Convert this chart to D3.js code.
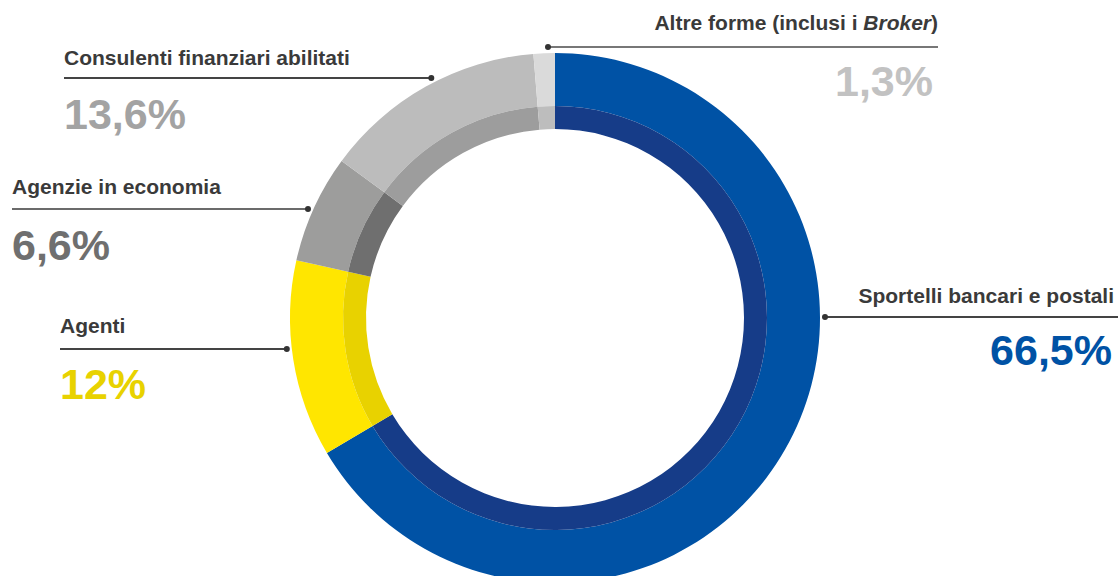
<!DOCTYPE html>
<html><head><meta charset="utf-8">
<script src="https://cdn.jsdelivr.net/npm/d3@7/dist/d3.min.js"></script>
<style>
html,body{margin:0;padding:0;background:#fff;}
svg{display:block;font-family:"Liberation Sans",Arial,Helvetica,sans-serif;}
</style></head>
<body>
<svg id="chart" width="1118" height="576"></svg>
<script>
// ---- data ----
const categories = ["Sportelli bancari e postali","Agenti","Agenzie in economia","Consulenti finanziari abilitati","Altre forme (inclusi i Broker)"];
const values = [66.5, 12, 6.6, 13.6, 1.3];
const valueLabels = ["66,5%","12%","6,6%","13,6%","1,3%"];
const outerColors = ["#0052a5","#ffe600","#9d9d9c","#bcbcbc","#dadada"];
const innerColors = ["#163c88","#e8d200","#6f6f6f","#9d9d9d","#bdbdbd"];
const valueColors = ["#0052a5","#e8d200","#6f6f6f","#a3a3a3","#c2c2c2"];

// ---- layout ----
const W = 1118, H = 576;
const cx = 555, cy = 318;
const rOuter = 265, rBand = 212, rInner = 189, rDot = 270;

const labelLayout = [
  {side:"right", x:1114, vx:1112, titleY:303, lineY:317, valueY:365, lineEnd:1118, lineColor:"#444"},
  {side:"left",  x:60,   vx:60,   titleY:333, lineY:349, valueY:399, lineColor:"#444"},
  {side:"left",  x:12,   vx:12,   titleY:194, lineY:209, valueY:260, lineColor:"#6b6b6b"},
  {side:"left",  x:64,   vx:64,   titleY:65,  lineY:78,  valueY:129, lineColor:"#444"},
  {side:"right", x:938,  vx:933,  titleY:30,  lineY:47,  valueY:96,  lineEnd:938, lineColor:"#777", dotDx:-7}
];

const svg = d3.select("#chart");
const g = svg.append("g").attr("transform", `translate(${cx},${cy})`);

const data = categories.map((c,i)=>({name:c, value:values[i], i}));
const pie = d3.pie().sort(null).value(d=>d.value);
const arcs = pie(data);

const arcOuter = d3.arc().innerRadius(rBand).outerRadius(rOuter);
const arcInner = d3.arc().innerRadius(rInner).outerRadius(rBand);

g.selectAll("path.outer").data(arcs).join("path")
  .attr("class","outer").attr("d", arcOuter)
  .attr("fill", d=>outerColors[d.data.i]);
g.selectAll("path.inner").data(arcs).join("path")
  .attr("class","inner").attr("d", arcInner)
  .attr("fill", d=>innerColors[d.data.i]);

// labels
const lab = svg.append("g");
data.forEach((d,i)=>{
  const L = labelLayout[i];
  const dy = L.lineY - cy;
  const dxAbs = Math.sqrt(Math.max(0, rDot*rDot - dy*dy));
  let dotX;
  if (L.dotDx !== undefined) dotX = cx + L.dotDx;
  else dotX = L.side === "right" ? cx + dxAbs : cx - dxAbs;
  let x1, x2;
  if (L.side === "right") { x1 = dotX; x2 = L.lineEnd; }
  else { x1 = L.x; x2 = dotX; }
  lab.append("line").attr("x1",x1).attr("x2",x2).attr("y1",L.lineY).attr("y2",L.lineY)
    .attr("stroke",L.lineColor).attr("stroke-width",2);
  lab.append("circle").attr("cx",dotX).attr("cy",L.lineY).attr("r",3).attr("fill","#333");

  const anchor = L.side === "right" ? "end" : "start";
  const t = lab.append("text").attr("x",L.x).attr("y",L.titleY)
    .attr("text-anchor",anchor).attr("font-size",21).attr("font-weight","bold").attr("fill","#3a3a3a");
  if (i === 4) {
    t.append("tspan").text("Altre forme (inclusi i ");
    t.append("tspan").attr("font-style","italic").text("Broker");
    t.append("tspan").text(")");
  } else t.text(d.name);

  lab.append("text").attr("x", L.vx).attr("y",L.valueY)
    .attr("text-anchor",anchor).attr("font-size",43).attr("font-weight","bold")
    .attr("fill",valueColors[i]).text(valueLabels[i]);
});
</script>
</body></html>
